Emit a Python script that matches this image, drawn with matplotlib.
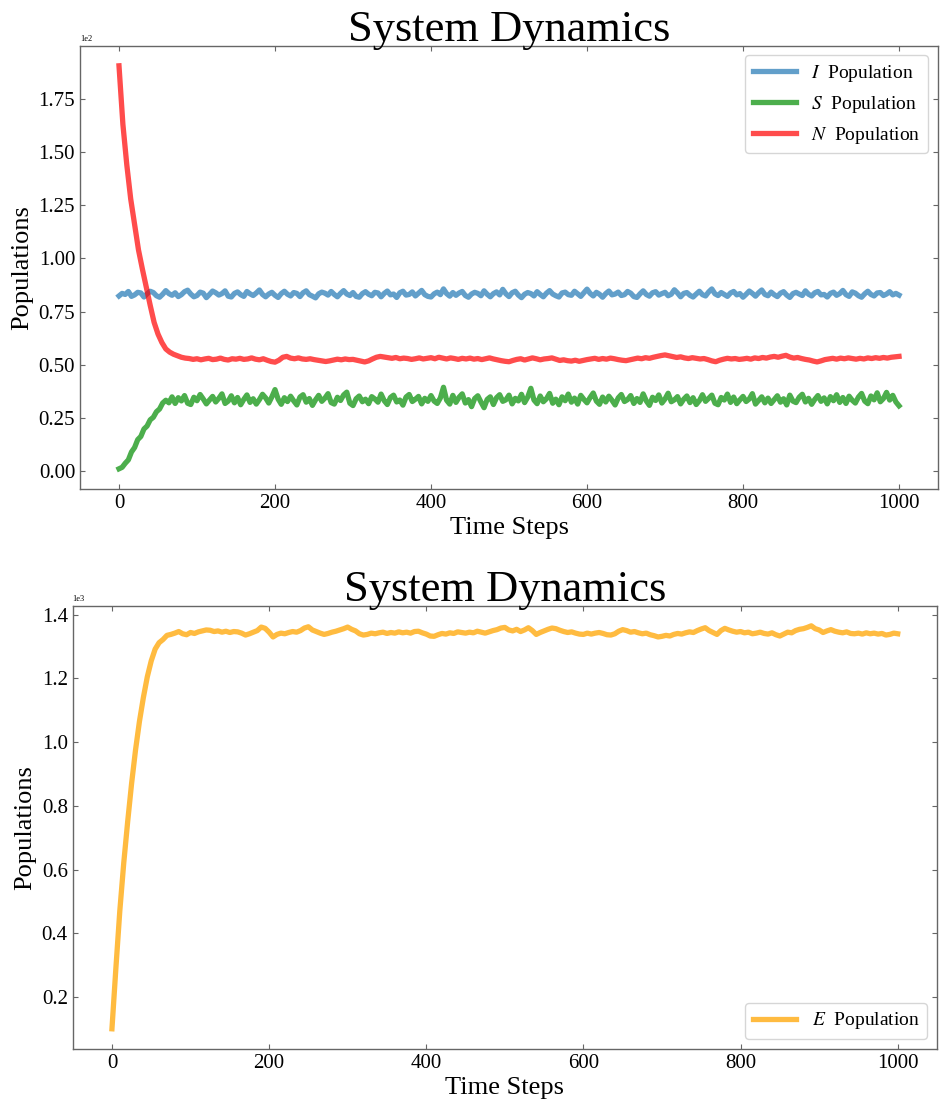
import numpy as np
import matplotlib
matplotlib.use("Agg")
import matplotlib.pyplot as plt

plt.rcParams['font.family'] = ['Liberation Serif', 'DejaVu Serif']
plt.rcParams['mathtext.fontset'] = 'stix'

# I and S sampled every 4 time steps, N and E every 5 (t = 0..1000)
i_pop = [
    82.4, 83.6, 83.1, 84.5, 82.2, 82.9, 84.1, 83.8, 81.9, 83.4,
    84.6, 84.0, 82.5, 81.8, 83.2, 84.9, 83.5, 82.7, 83.9, 82.1,
    83.0, 84.4, 85.1, 83.3, 82.0, 82.6, 84.2, 83.7, 81.6, 83.1,
    84.7, 83.9, 82.8, 83.5, 84.8, 82.3, 81.9, 83.6, 84.3, 83.0,
    82.2, 84.5, 83.4, 82.6, 83.8, 85.2, 83.1, 82.0, 83.3, 84.1,
    82.7, 81.7, 83.5, 84.6, 83.2, 82.4, 84.0, 83.6, 82.1, 83.9,
    84.8, 83.0, 82.3, 81.5, 83.4, 84.2, 83.7, 82.8, 84.5, 83.1,
    82.0, 83.6, 84.9, 83.3, 82.6, 84.0, 82.2, 81.8, 83.5, 84.4,
    83.2, 82.5, 84.1, 83.8, 82.0, 83.6, 84.7, 82.9, 83.3, 81.7,
    83.9, 84.6, 82.8, 83.1, 84.3, 82.4, 83.7, 85.0, 83.0, 82.2,
    81.9, 83.4, 84.2, 83.0, 85.7, 83.5, 82.3, 84.0, 82.7, 83.8,
    84.5, 82.6, 81.8, 83.3, 84.1, 83.6, 82.5, 84.8, 83.2, 82.0,
    83.5, 84.3, 82.9, 85.5, 83.4, 82.1, 83.9, 84.6, 82.8, 81.6,
    83.2, 84.0, 83.5, 82.4, 84.4, 83.1, 82.0, 83.7, 84.9, 83.3,
    82.5, 81.9, 83.8, 84.2, 83.0, 82.7, 84.6, 83.4, 82.2, 83.9,
    85.6, 83.6, 82.4, 84.1, 83.2, 81.8, 83.5, 84.7, 82.9, 83.3,
    84.2, 82.6, 83.0, 84.5, 83.7, 82.1, 81.7, 83.4, 84.8, 83.1,
    82.3, 83.9, 84.4, 82.8, 83.5, 84.1, 82.5, 83.2, 85.3, 83.8,
    82.0, 83.6, 84.0, 82.7, 81.9, 83.3, 84.6, 83.0, 82.4, 84.3,
    85.7, 83.4, 82.6, 84.0, 83.1, 82.2, 83.8, 84.5, 82.9, 83.5,
    81.8, 83.2, 84.7, 83.6, 82.3, 83.9, 85.2, 83.1, 82.5, 84.2,
    83.0, 82.1, 83.7, 84.4, 82.8, 81.7, 83.5, 84.1, 83.3, 82.6,
    84.8, 83.2, 82.4, 83.9, 84.5, 82.9, 83.1, 81.9, 83.6, 84.2,
    82.7, 83.5, 85.0, 83.0, 82.2, 84.3, 83.7, 82.5, 81.8, 83.4,
    84.6, 83.1, 82.4, 83.8, 84.0, 82.6, 83.3, 84.4, 82.9, 83.6,
    82.8,
]

s_pop = [
    1.2, 1.9, 3.8, 5.4, 9.1, 11.2, 14.9, 16.4, 19.9, 21.3,
    24.2, 25.4, 28.0, 29.3, 32.1, 33.4, 32.2, 35.0, 31.9, 34.6,
    33.1, 35.6, 32.0, 31.4, 34.8, 33.2, 36.1, 34.0, 31.7, 33.5,
    35.2, 32.6, 34.3, 36.4, 31.9, 33.0, 35.5, 32.2, 34.7, 31.3,
    33.8, 35.9, 32.4, 34.1, 31.6, 33.7, 36.2, 34.5, 32.1, 35.0,
    38.4, 33.9, 31.5, 34.6, 32.8, 35.3, 33.1, 31.2, 34.9, 36.0,
    32.5, 34.2, 31.0, 33.6, 35.7, 32.9, 34.4, 36.5, 32.3, 31.6,
    34.8, 33.3, 35.9, 37.2, 32.0, 30.9, 34.1, 35.4, 32.7, 33.9,
    31.8, 35.1, 34.0, 32.5, 36.3, 33.2, 31.4, 34.7, 35.8, 32.6,
    33.5, 31.1, 34.9, 36.1, 32.8, 33.9, 35.2, 31.7, 34.3, 32.9,
    35.6, 33.0, 31.9, 34.5, 39.5, 33.4, 31.6, 35.7, 32.4, 34.8,
    36.4, 32.1, 33.7, 30.4, 34.2, 35.5, 32.6, 29.9, 33.8, 35.0,
    31.4, 34.6, 36.0, 32.9, 33.6, 35.8, 31.7, 34.3, 33.1, 36.2,
    32.3, 34.9, 39.0, 33.5, 31.8, 35.4, 32.7, 34.1, 36.6, 32.0,
    33.9, 31.3, 35.0, 33.2, 36.3, 32.5, 34.4, 31.6, 35.7, 33.8,
    32.2, 34.7, 36.8, 33.0, 31.5, 34.9, 32.6, 35.3, 33.4, 31.2,
    34.5, 36.1, 32.8, 33.7, 35.6, 31.9, 34.2, 32.4, 36.4, 33.1,
    31.0, 34.8, 33.3, 35.9, 32.1, 34.0, 36.7, 32.7, 33.6, 35.1,
    31.7, 33.9, 35.4, 32.3, 34.6, 31.4, 33.2, 36.0, 32.9, 34.3,
    35.8, 32.0, 31.3, 34.7, 33.5, 36.3, 32.4, 34.9, 31.8, 33.6,
    35.2, 32.8, 34.0, 36.5, 31.6, 33.3, 35.0, 32.2, 34.4, 31.9,
    33.7, 35.5, 32.5, 34.1, 31.2, 35.8, 33.0, 32.3, 34.8, 36.2,
    32.6, 34.3, 31.5, 33.8, 35.6, 32.9, 34.5, 31.7, 35.1, 33.2,
    36.0, 32.4, 34.7, 31.9, 35.3, 33.4, 32.1, 34.9, 36.6, 33.0,
    31.8, 35.4, 33.6, 36.9, 32.7, 34.2, 37.1, 33.5, 35.7, 32.6,
    30.8,
]

n_pop = [
    190.5, 163.0, 144.0, 128.0, 116.0, 104.0, 95.0, 86.5, 78.0, 70.0,
    64.5, 60.5, 57.5, 56.0, 55.0, 54.3, 53.6, 53.2, 53.0, 52.6,
    52.9, 52.4, 52.8, 53.1, 52.5, 52.7, 53.2, 52.6, 52.3, 52.9,
    52.7, 53.1, 52.6, 52.8, 53.3, 52.7, 52.4, 52.9, 52.2, 51.6,
    51.3, 52.2, 53.6, 54.0, 53.2, 52.9, 53.3, 52.8, 52.6, 52.9,
    52.5, 52.2, 51.9, 51.6, 51.9, 52.3, 52.7, 52.4, 52.8, 52.5,
    52.6, 52.2, 51.8, 51.4, 51.9, 52.8, 53.6, 54.0, 53.7, 53.4,
    53.1, 53.5, 52.9, 53.2, 53.0, 52.6, 52.9, 53.3, 52.8, 53.1,
    53.4, 52.9, 53.6, 53.2, 52.8, 53.3, 53.0, 52.6, 53.1, 52.8,
    53.2, 52.7, 53.0, 52.5, 52.9, 53.3, 52.8, 52.4, 52.0, 51.7,
    51.5, 52.1, 52.6, 52.9, 52.3, 52.8, 53.3, 52.9, 52.4, 52.8,
    53.0, 53.3, 52.7, 52.1, 52.4, 52.0, 51.8, 52.2, 51.7, 52.1,
    52.5, 52.8, 53.1, 52.6, 53.0, 52.7, 53.2, 52.9, 52.5, 52.2,
    52.0, 52.4, 52.8, 53.2, 52.9, 53.4, 53.1, 53.6, 54.0, 54.4,
    54.7, 54.3, 53.9, 53.5, 53.8, 53.3, 53.0, 53.4, 53.1, 52.8,
    53.0, 52.5, 51.9, 51.5, 52.2, 52.7, 53.1, 52.8, 53.0, 52.6,
    52.8, 53.1, 52.7, 53.3, 53.0, 53.5, 53.2, 53.7, 54.0, 53.6,
    54.1, 54.5, 53.7, 53.2, 53.5, 53.0, 52.6, 52.3, 51.8, 51.4,
    51.9, 52.5, 52.8, 53.1, 52.7, 53.2, 52.9, 53.3, 53.0, 52.7,
    53.1, 52.8, 53.3, 53.0, 53.4, 53.1, 53.5, 53.2, 53.6, 53.8,
    54.0,
]

e_pop = [
    100, 290, 470, 620, 750, 870, 975, 1065, 1140, 1205,
    1255, 1292, 1312, 1322, 1335, 1338, 1342, 1347, 1340, 1337,
    1344, 1341, 1346, 1349, 1352, 1351, 1347, 1349, 1345, 1348,
    1344, 1347, 1346, 1342, 1336, 1340, 1345, 1350, 1361, 1357,
    1345, 1330, 1338, 1342, 1340, 1344, 1347, 1345, 1350, 1358,
    1362, 1352, 1347, 1342, 1338, 1341, 1345, 1348, 1352, 1356,
    1361, 1354, 1349, 1340, 1336, 1338, 1342, 1340, 1343, 1345,
    1341, 1344, 1342, 1346, 1343, 1345, 1342, 1347, 1348, 1343,
    1339, 1333, 1332, 1337, 1341, 1339, 1343, 1341, 1346, 1344,
    1342, 1345, 1343, 1348, 1345, 1342, 1346, 1350, 1353, 1358,
    1360, 1352, 1349, 1354, 1347, 1352, 1359, 1350, 1338, 1344,
    1349, 1354, 1358, 1356, 1351, 1347, 1344, 1346, 1342, 1339,
    1338, 1342, 1339, 1342, 1344, 1341, 1337, 1336, 1340, 1348,
    1353, 1350, 1345, 1347, 1343, 1340, 1342, 1337, 1334, 1330,
    1332, 1335, 1333, 1338, 1341, 1339, 1343, 1346, 1344, 1350,
    1355, 1359, 1350, 1344, 1338, 1350, 1357, 1352, 1348, 1345,
    1347, 1343, 1345, 1340, 1342, 1345, 1341, 1339, 1343, 1337,
    1333, 1339, 1345, 1343, 1350, 1354, 1356, 1360, 1365, 1356,
    1352, 1344, 1349, 1353, 1348, 1345, 1343, 1346, 1341, 1340,
    1342, 1339, 1343, 1340, 1342, 1339, 1341, 1336, 1338, 1342,
    1340,
]

labels_top = [r'$I$  Population', r'$S$  Population', r'$N$  Population']
label_bottom = r'$E$  Population'


def steps(vals):
    return np.linspace(0, 1000, len(vals))


def style_axes(ax):
    ax.tick_params(direction='in', top=True, right=True, length=3.5,
                   color='#666666', labelsize=15)
    for sp in ax.spines.values():
        sp.set_color('#666666')
        sp.set_linewidth(1.0)
    ax.ticklabel_format(axis='y', style='sci', scilimits=(0, 0))
    ax.yaxis.get_offset_text().set_fontsize(6)
    ax.set_xlabel('Time Steps', fontsize=19, labelpad=3)
    ax.set_ylabel('Populations', fontsize=19, labelpad=4)
    ax.set_title('System Dynamics', fontsize=32, pad=3)


fig = plt.figure(figsize=(9.4, 11.03), dpi=100)

ax1 = fig.add_axes([0.0851, 0.5567, 0.9128, 0.4019])
ax1.plot(steps(i_pop), i_pop, color='tab:blue', alpha=0.7, lw=3.8, label=labels_top[0])
ax1.plot(steps(s_pop), s_pop, color='tab:green', alpha=0.85, lw=3.8, label=labels_top[1])
ax1.plot(steps(n_pop), n_pop, color='red', alpha=0.7, lw=3.8, label=labels_top[2])
ax1.set_yticks(np.arange(0, 176, 25))
style_axes(ax1)
ax1.legend(loc='upper right', fontsize=14, handlelength=2.2)

ax2 = fig.add_axes([0.0773, 0.049, 0.9195, 0.4019])
ax2.plot(steps(e_pop), e_pop, color='orange', alpha=0.75, lw=3.8, label=label_bottom)
ax2.set_yticks(np.arange(200, 1401, 200))
style_axes(ax2)
ax2.legend(loc='lower right', fontsize=14, handlelength=2.2)

fig.savefig('out.png', dpi=100)
